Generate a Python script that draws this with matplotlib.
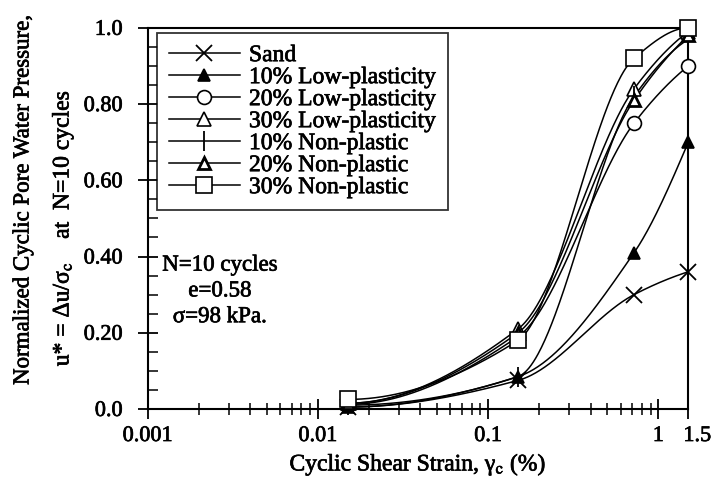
import numpy as np
import matplotlib
matplotlib.use("Agg")
import matplotlib.pyplot as plt
import matplotlib.transforms as mtransforms
import matplotlib.patheffects as pe
from matplotlib.ticker import FixedLocator, NullFormatter, LogLocator

plt.rcParams['font.family'] = ['Liberation Serif', 'DejaVu Serif']
plt.rcParams['mathtext.fontset'] = 'stix'

# Cyclic shear strain levels (%)
strain = [0.015, 0.15, 0.72, 1.5]

# Normalized pore pressure u* at N=10 cycles for each soil
sand = [0.005, 0.075, 0.30, 0.36]
lp10 = [0.005, 0.085, 0.41, 0.70]
lp20 = [0.012, 0.19, 0.75, 0.90]
lp30 = [0.015, 0.21, 0.84, 0.99]
np10 = [0.010, 0.085, 0.82, 0.97]
np20 = [0.015, 0.20, 0.81, 0.98]
np30 = [0.025, 0.18, 0.92, 1.00]

labels = ["Sand", "10% Low-plasticity", "20% Low-plasticity", "30% Low-plasticity",
          "10% Non-plastic", "20% Non-plastic", "30% Non-plastic"]
series = [sand, lp10, lp20, lp30, np10, np20, np30]

y_ticks = [0.0, 0.2, 0.4, 0.6, 0.8, 1.0]
y_ticklabels = ["0.0", "0.20", "0.40", "0.60", "0.80", "1.0"]
x_ticks = [0.001, 0.01, 0.1, 1, 1.5]
x_ticklabels = ["0.001", "0.01", "0.1", "1", "1.5"]

styles = [
    dict(marker='x', ms=11, mfc='none', mew=1.3),
    dict(marker='^', ms=9, mfc='black', mew=1.2),
    dict(marker='o', ms=10, mfc='white', mew=1.2),
    dict(marker='^', ms=10, mfc='white', mew=1.2),
    dict(marker='|', ms=14, mfc='none', mew=1.3),
    dict(marker='^', ms=8, mfc='white', mew=2.0),
    dict(marker='s', ms=11, mfc='white', mew=1.2),
]

# slight stroke to give the lettering a heavier printed look
ink = [pe.withStroke(linewidth=0.5, foreground='black')]


def pchip(x, y, xs):
    """Monotone piecewise cubic Hermite curve through (x, y)."""
    x = np.asarray(x, float)
    y = np.asarray(y, float)
    h = np.diff(x)
    delta = np.diff(y) / h
    n = len(x)
    d = np.zeros(n)
    for k in range(1, n - 1):
        if delta[k - 1] * delta[k] > 0:
            w1 = 2 * h[k] + h[k - 1]
            w2 = h[k] + 2 * h[k - 1]
            d[k] = (w1 + w2) / (w1 / delta[k - 1] + w2 / delta[k])
    d[0] = ((2 * h[0] + h[1]) * delta[0] - h[0] * delta[1]) / (h[0] + h[1])
    if np.sign(d[0]) != np.sign(delta[0]):
        d[0] = 0
    d[-1] = ((2 * h[-1] + h[-2]) * delta[-1] - h[-1] * delta[-2]) / (h[-1] + h[-2])
    if np.sign(d[-1]) != np.sign(delta[-1]):
        d[-1] = 0
    elif abs(d[-1]) > 3 * abs(delta[-1]):
        d[-1] = 3 * delta[-1]
    out = np.empty_like(xs)
    for j, xv in enumerate(xs):
        i = min(max(np.searchsorted(x, xv) - 1, 0), n - 2)
        t = (xv - x[i]) / h[i]
        h00 = 2 * t ** 3 - 3 * t ** 2 + 1
        h10 = t ** 3 - 2 * t ** 2 + t
        h01 = -2 * t ** 3 + 3 * t ** 2
        h11 = t ** 3 - t ** 2
        out[j] = h00 * y[i] + h10 * h[i] * d[i] + h01 * y[i + 1] + h11 * h[i] * d[i + 1]
    return out


fig = plt.figure(figsize=(7.17, 4.80), dpi=100)
ax = fig.add_axes([0.206, 0.148, 0.754, 0.794])

lx = np.log10(strain)
xs = np.linspace(lx[0], lx[-1], 300)
for vals, lab, st in zip(series, labels, styles):
    ys = pchip(lx, vals, xs)
    ax.plot(10 ** xs, ys, color='black', lw=1.1, zorder=2)
    ax.plot(strain, vals, ls='none', color='black', mec='black',
            zorder=3, clip_on=False, **st)
    ax.plot([], [], color='black', lw=1.1, label=lab, **st)

ax.set_xscale('log')
ax.set_xlim(0.001, 1.5)
ax.set_ylim(0.0, 1.0)

ax.xaxis.set_major_locator(FixedLocator(x_ticks))
ax.set_xticklabels(x_ticklabels)
ax.xaxis.set_minor_locator(LogLocator(base=10, subs=np.arange(2, 10)))
ax.xaxis.set_minor_formatter(NullFormatter())
ax.set_yticks(y_ticks)
ax.set_yticklabels(y_ticklabels)
ax.yaxis.set_minor_locator(FixedLocator(np.arange(0.05, 1.0, 0.05)))

ax.tick_params(axis='both', which='major', direction='inout', length=14,
               width=1.3, labelsize=16)
ax.tick_params(axis='x', which='major', pad=6)
ax.tick_params(axis='y', which='major', pad=11)
ax.tick_params(axis='x', which='minor', direction='inout', length=9, width=1.1)
ax.tick_params(axis='y', which='minor', direction='in', length=7, width=1.1)
for s in ax.spines.values():
    s.set_linewidth(1.5)

# nudge the end label a little to the right of the frame corner
last = ax.get_xticklabels()[-1]
last.set_transform(last.get_transform() +
                   mtransforms.ScaledTranslation(9 / 100, 0, fig.dpi_scale_trans))

xl = ax.set_xlabel("Cyclic Shear Strain, γ$_{\\rm c}$ (%)", fontsize=17, labelpad=4)
t1 = fig.text(0.032, 0.583, "Normalized Cyclic Pore Water Pressure,", rotation=90,
              ha='center', va='center', fontsize=16.5)
t2 = fig.text(0.088, 0.525, "u* = Δu/σ$_{\\rm c}$    at  N=10 cycles", rotation=90,
              ha='center', va='center', fontsize=17)

note = ax.text(0.001 * 10 ** (72 / 170), 0.405, "N=10 cycles\ne=0.58\nσ=98 kPa.",
               ha='center', va='top', fontsize=16.5, linespacing=1.3)

leg = ax.legend(loc='upper left', bbox_to_anchor=(0.017, 0.987), fontsize=17,
                frameon=True, fancybox=False, edgecolor='black',
                handlelength=3.0, handletextpad=0.4, labelspacing=0.02,
                borderpad=0.5, borderaxespad=0)
leg.get_frame().set_linewidth(1.3)

for t in ([xl, t1, t2, note] + leg.get_texts() +
          ax.get_xticklabels() + ax.get_yticklabels()):
    t.set_path_effects(ink)

fig.savefig("out.png", dpi=100)
